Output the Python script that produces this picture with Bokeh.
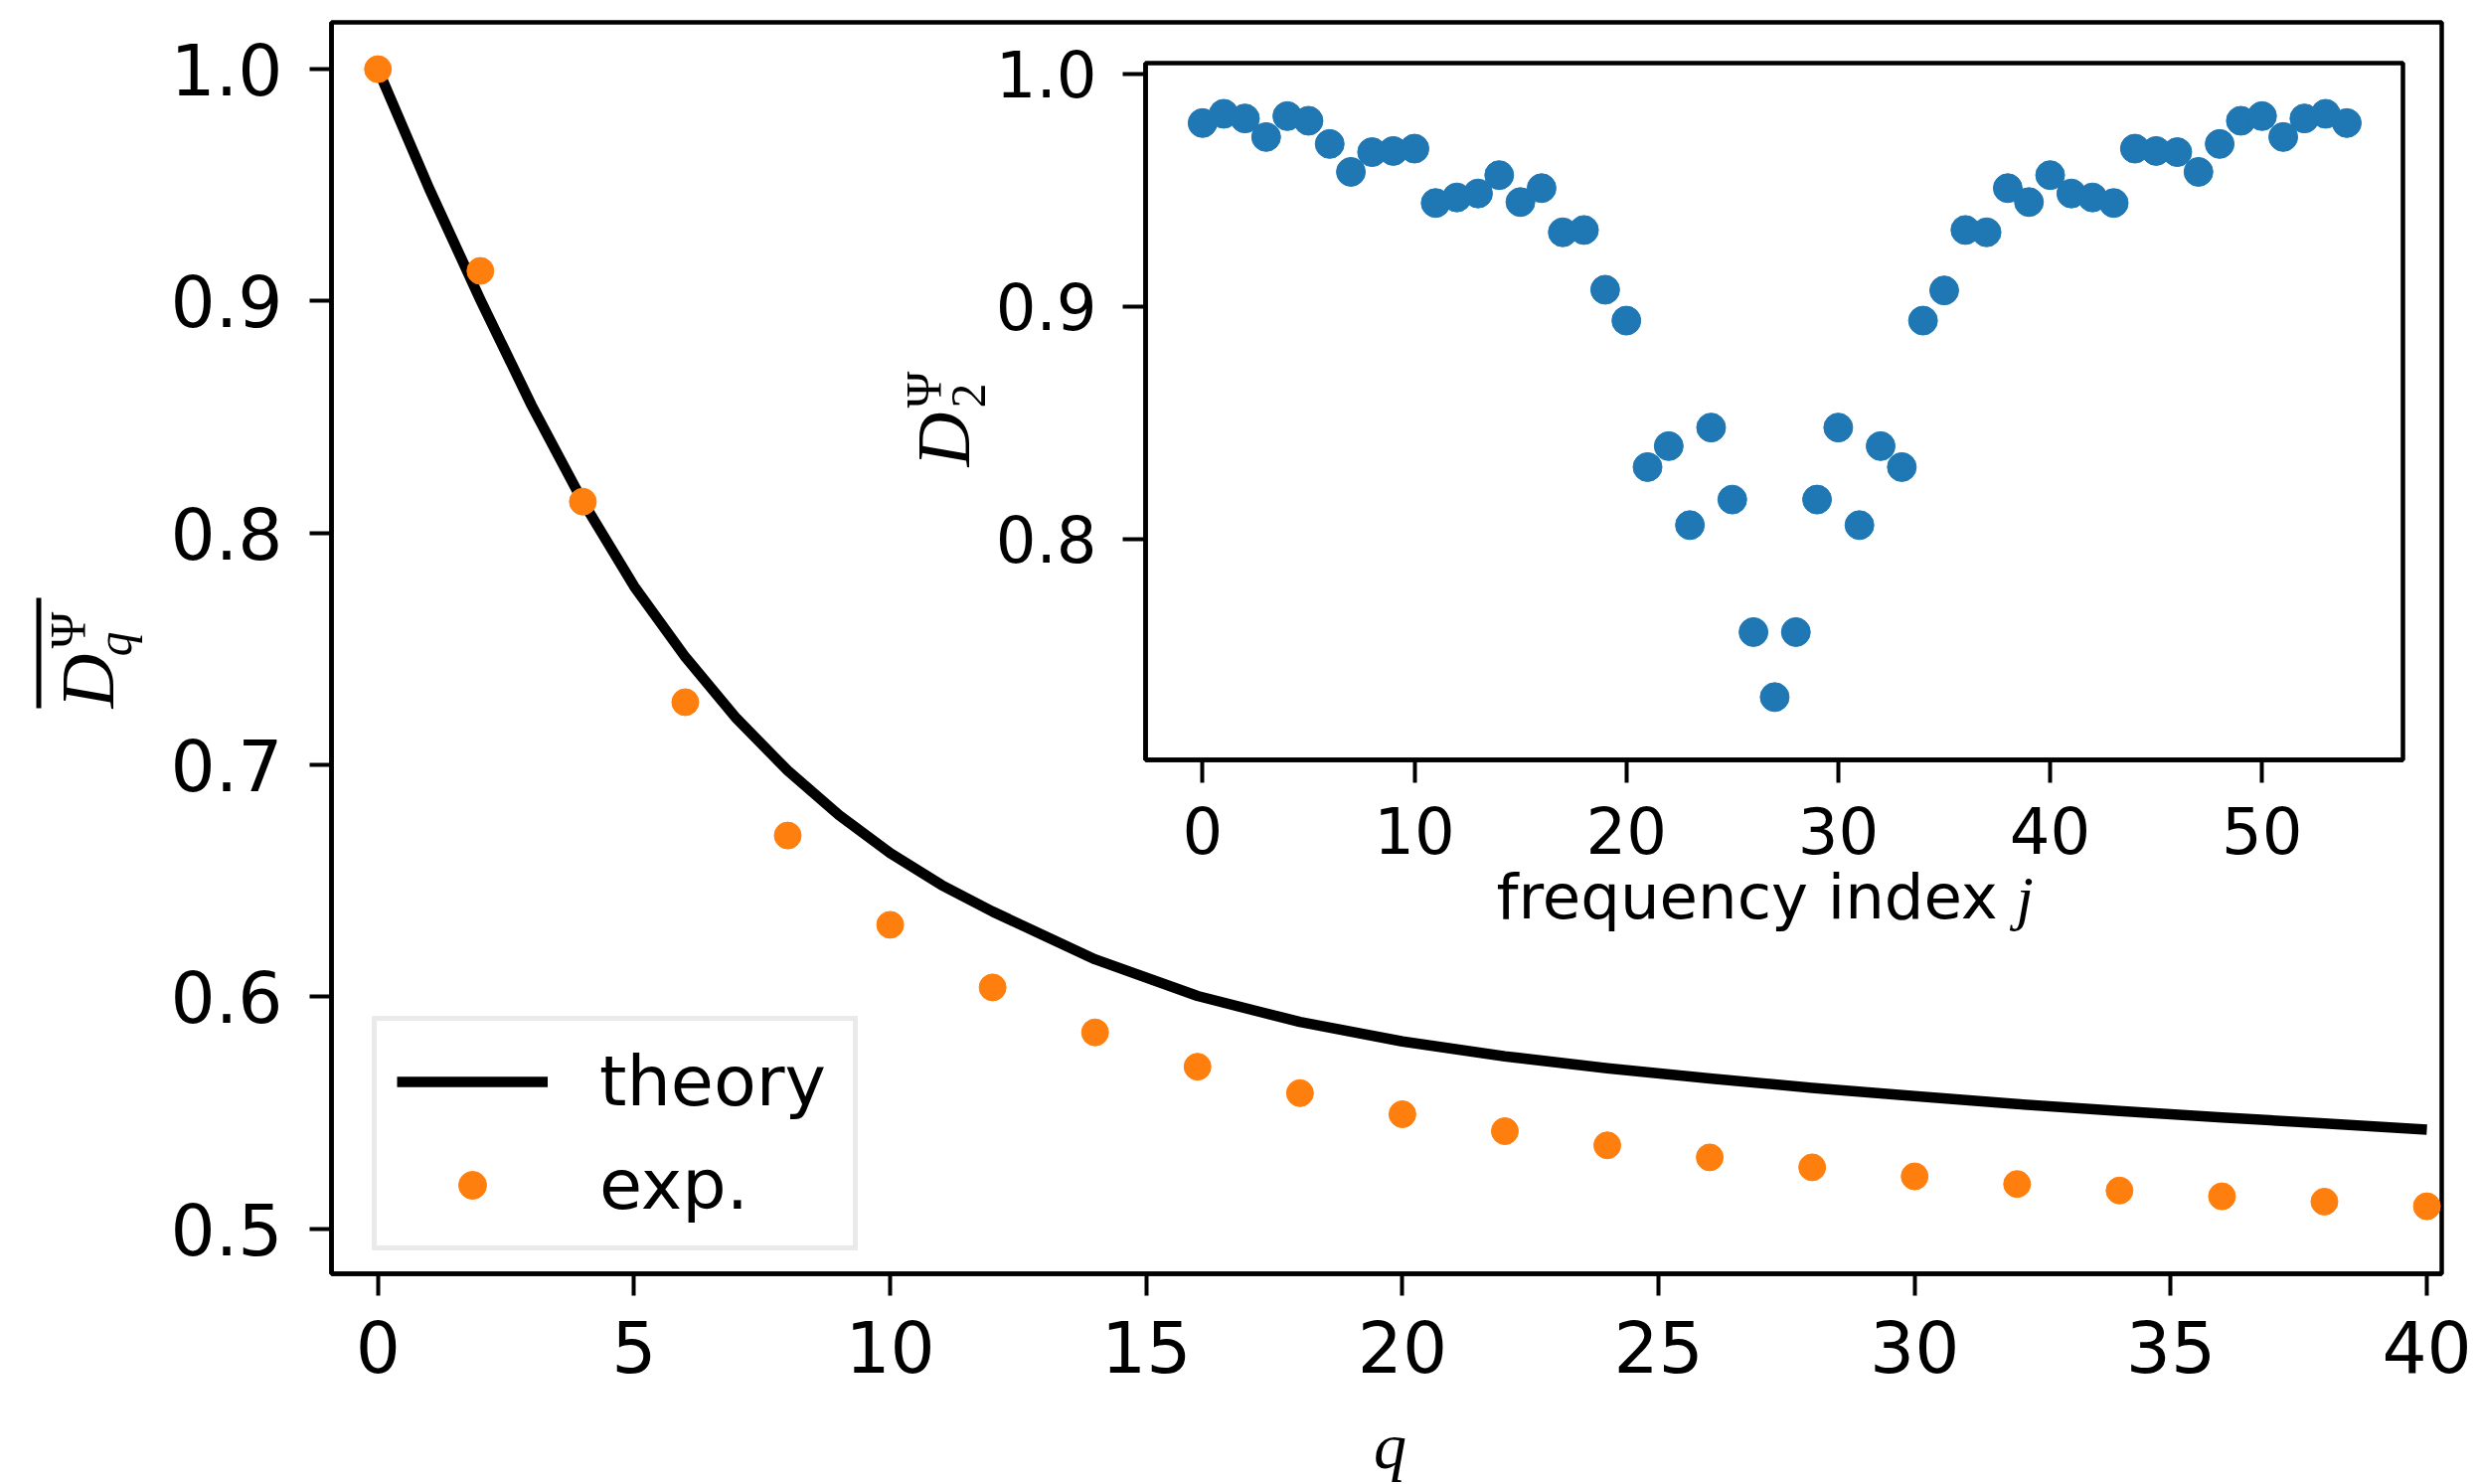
import math
from bokeh.plotting import figure
from bokeh.layouts import column
from bokeh.models import (Range1d, FixedTicker, NumeralTickFormatter, Legend,
                          LegendItem)
from bokeh.core.properties import value
from bokeh.embed import file_html
from bokeh.resources import INLINE

W, H = 2493, 1493

# ---------------- data ----------------
q_theory = [0, 1, 2, 3, 4, 5, 6, 7, 8, 9, 10, 11, 12, 14, 16, 18, 20, 22, 24,
            26, 28, 30, 32, 34, 36, 38, 40]
d_theory = [1.000, 0.9485, 0.9005, 0.855, 0.8135, 0.777, 0.7465, 0.720, 0.6975,
            0.6783, 0.6619, 0.6482, 0.6367, 0.6161, 0.6003, 0.5891, 0.5807,
            0.5743, 0.5691, 0.5647, 0.5607, 0.5571, 0.5537, 0.5507, 0.5479,
            0.5453, 0.5427]

q_exp = [0, 2, 4, 6, 8, 10, 12, 14, 16, 18, 20, 22, 24, 26, 28, 30, 32, 34, 36, 38, 40]
d_exp = [1.000, 0.913, 0.8135, 0.727, 0.6695, 0.631, 0.604, 0.5846, 0.5698,
         0.5584, 0.5493, 0.542, 0.5359, 0.5307, 0.5264, 0.5225, 0.5192, 0.5164,
         0.5139, 0.5116, 0.5096]

j_index = list(range(55))
d2_values = [0.979, 0.983, 0.981, 0.973, 0.982, 0.980, 0.970, 0.958, 0.9665, 0.967,
             0.968, 0.9446, 0.947, 0.9487, 0.9566, 0.945, 0.951, 0.932, 0.933, 0.9073,
             0.894, 0.831, 0.840, 0.806, 0.848, 0.817, 0.760, 0.732, 0.760, 0.817,
             0.848, 0.806, 0.840, 0.831, 0.894, 0.907, 0.933, 0.932, 0.951, 0.945,
             0.9566, 0.9487, 0.947, 0.9446, 0.968, 0.967, 0.9665, 0.958, 0.970, 0.980,
             0.982, 0.973, 0.981, 0.983, 0.979]

main_xticks = [0, 5, 10, 15, 20, 25, 30, 35, 40]
main_yticks = [0.5, 0.6, 0.7, 0.8, 0.9, 1.0]
inset_xticks = [0, 10, 20, 30, 40, 50]
inset_yticks = [0.8, 0.9, 1.0]

ORANGE = "#ff7f0e"
BLUE = "#1f77b4"

# frame geometry (page pixels)
FL, FR, FT, FB = 333, 2456, 22, 1281          # main frame
IL, IR, IT, IB = 1152, 2417, 63, 764          # inset frame
BL, BR = FL, W - FR                            # shared left/right borders


def style_axes(p, font_px, tick_out, standoff_x, standoff_y):
    for ax in (p.xaxis[0], p.yaxis[0]):
        ax.axis_line_color = "black"
        ax.axis_line_width = 4.5
        ax.major_tick_line_color = "black"
        ax.major_tick_line_width = 4
        ax.major_tick_out = tick_out
        ax.major_tick_in = 0
        ax.minor_tick_line_color = None
        ax.major_label_text_font = "DejaVu Sans"
        ax.major_label_text_font_size = f"{font_px}px"
        ax.major_label_text_color = "black"
    p.xaxis[0].major_label_standoff = standoff_x
    p.yaxis[0].major_label_standoff = standoff_y
    p.xgrid.visible = False
    p.ygrid.visible = False
    p.outline_line_color = "black"
    p.outline_line_width = 4.5


# ---------------- main plot ----------------
main = figure(width=W, height=H, output_backend="svg", toolbar_location=None,
              x_range=Range1d(-0.907, 40.29), y_range=Range1d(0.4805, 1.0202),
              min_border_left=BL, min_border_right=BR, min_border_top=FT,
              min_border_bottom=H - FB)
main.background_fill_color = "white"
main.border_fill_color = "white"
style_axes(main, 71, 22, 24, 27)
main.xaxis[0].ticker = FixedTicker(ticks=main_xticks)
main.yaxis[0].ticker = FixedTicker(ticks=main_yticks)
main.xaxis[0].formatter = NumeralTickFormatter(format="0")
main.yaxis[0].formatter = NumeralTickFormatter(format="0.0")

r_theory = main.line(q_theory, d_theory, line_color="black", line_width=10.5,
                     line_join="round")
r_exp = main.scatter(q_exp, d_exp, size=27, fill_color=ORANGE, line_color=ORANGE,
                     line_width=1, marker="circle")

legend = Legend(items=[LegendItem(label="theory", renderers=[r_theory]),
                       LegendItem(label="exp.", renderers=[r_exp])],
                location=(41, 23), margin=0, padding=20, spacing=22,
                glyph_width=152, glyph_height=70, label_height=75,
                label_width=235, label_standoff=52,
                label_text_font="DejaVu Sans",
                label_text_font_size="70px", label_text_color="black",
                border_line_color="#d6d6d6", border_line_width=5.5,
                background_fill_color="white", background_fill_alpha=1.0)
main.add_layout(legend)

# page-pixel coordinate system for the math labels (drawn above the frame clip)
main.extra_x_ranges["px"] = Range1d(FL, FR)
main.extra_y_ranges["px"] = Range1d(H - FB, H - FT)

SERIF = value("Liberation Serif")
SANS = value("DejaVu Sans")
ROT = math.pi / 2
BASE_FIX = 0.32   # correction of the renderer's baseline placement (fraction of em)


def put(text, x, y, size, font=SERIF, style="normal", angle=0.0, align="left"):
    if angle:
        x = x - BASE_FIX * size
    else:
        y = y - BASE_FIX * size
    main.text(x=[x], y=[H - y], text=[text], text_font=font,
              text_font_style=value(style), text_font_size=value(f"{size}px"),
              angle=angle, text_align=value(align),
              text_baseline=value("alphabetic"), text_color="black",
              x_range_name="px", y_range_name="px", level="overlay")


# main y label: overline D_q^Psi (rotated)
main.segment(x0=[38.5], y0=[H - 601], x1=[38.5], y1=[H - 712],
             line_color="black", line_width=5,
             x_range_name="px", y_range_name="px", level="overlay")
put("D", 112, 712, 76, style="italic", angle=ROT)
put("Ψ", 83, 652, 50, angle=ROT)
put("q", 130, 660, 50, style="italic", angle=ROT)

# inset y label: D_2^Psi (rotated)
put("D", 973, 469, 76, style="italic", angle=ROT)
put("Ψ", 944, 410, 50, angle=ROT)
put("2", 990, 410, 50, angle=ROT)

# main x label
put("q", 1398, 1475, 66, style="italic", align="center")

# inset x label
put("frequency index", 1505, 922, 62.5, font=SANS)
put("j", 2028, 922, 62, style="italic")

# ---------------- inset (overlaid figure) ----------------
IN_TOP_B = 60
IN_BOT_B = 130
in_w = BL + (IR - IL) + BR
in_h = IN_TOP_B + (IB - IT) + IN_BOT_B
inset = figure(width=in_w, height=in_h, output_backend="svg", toolbar_location=None,
               x_range=Range1d(-2.69, 56.65), y_range=Range1d(0.705, 1.0048),
               min_border_left=BL, min_border_right=BR, min_border_top=IN_TOP_B,
               min_border_bottom=IN_BOT_B,
               styles={"position": "absolute", "left": f"{IL - BL}px",
                       "top": f"{IT - IN_TOP_B}px"})
inset.background_fill_color = "white"
inset.border_fill_color = None
inset.border_fill_alpha = 0
style_axes(inset, 64, 23, 24, 26)
inset.xaxis[0].ticker = FixedTicker(ticks=inset_xticks)
inset.yaxis[0].ticker = FixedTicker(ticks=inset_yticks)
inset.xaxis[0].formatter = NumeralTickFormatter(format="0")
inset.yaxis[0].formatter = NumeralTickFormatter(format="0.0")
inset.scatter(j_index, d2_values, size=29, fill_color=BLUE, line_color=BLUE,
              line_width=1, marker="circle")

layout = column(main, inset)

open("out.html", "w").write(file_html(layout, INLINE))
